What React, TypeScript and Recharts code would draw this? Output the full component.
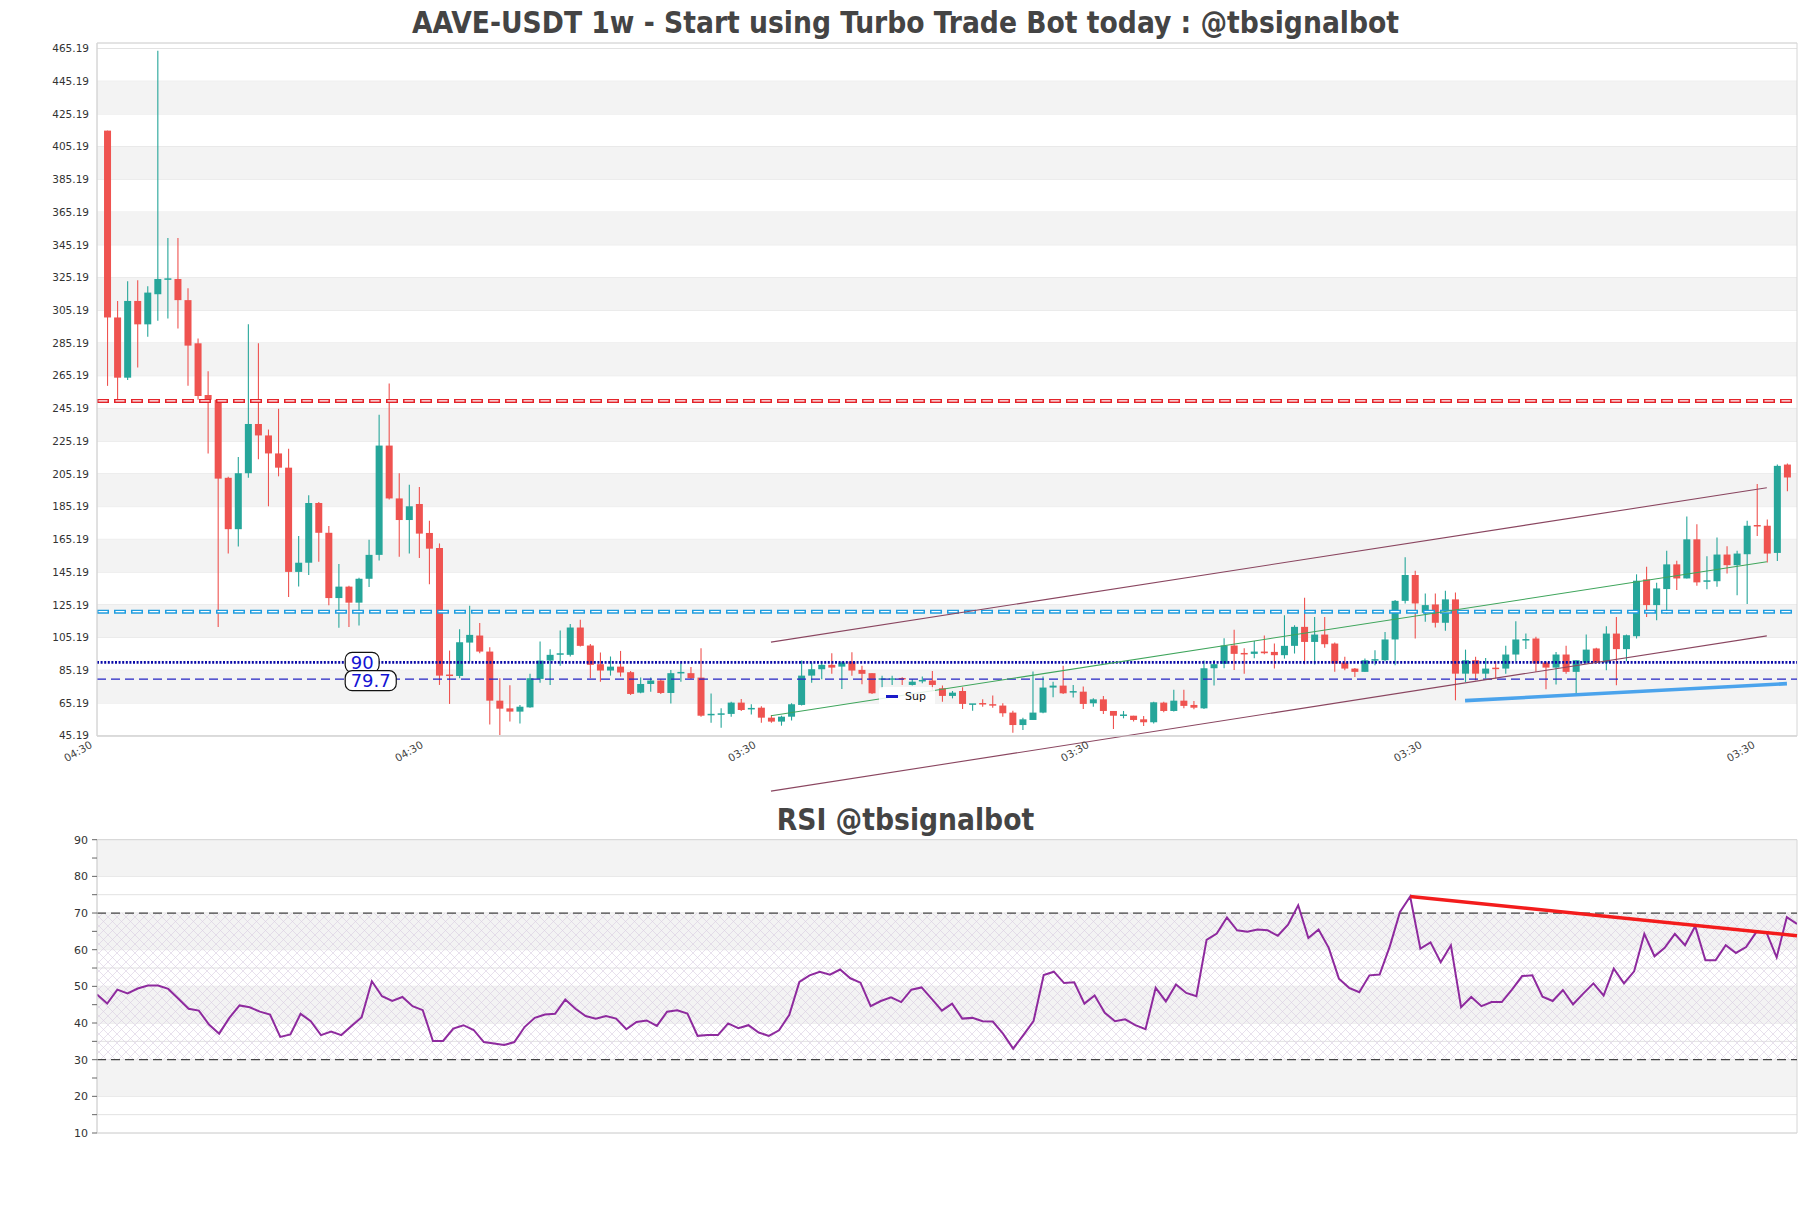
import React from 'react';
import {
  Bar,
  CartesianGrid,
  ComposedChart,
  Line,
  ReferenceArea,
  ReferenceLine,
  XAxis,
  YAxis,
} from 'recharts';

// weekly candles (index 0 = oldest)
const opens = [
  415, 300.8, 264, 310.9, 296.6, 315, 324, 324.3, 311.4, 285,
  253.4, 250.5, 202.8, 171.4, 205.6, 235.7, 228.7, 217.7, 209, 145.3,
  150.9, 187.4, 169.2, 129.3, 136.3, 126.5, 141.1, 155.7, 222.5, 190.2,
  177, 186.8, 169.1, 159.9, 82.3, 81.7, 102.1, 106.4, 96.6, 66.6,
  61.9, 59.9, 62.5, 79.9, 91.1, 95, 94.6, 111.3, 100.3, 88.9,
  85, 87.4, 84, 71.5, 76.8, 78.9, 71.3, 83.6, 83.4, 80.7,
  58, 58.3, 58.5, 65.4, 61.5, 62.3, 56.2, 53.8, 56.8, 64,
  81.9, 85.8, 88.5, 87.4, 90.5, 85.4, 83.4, 79.7, 79.7, 80.1,
  76.2, 78.7, 78.9, 74.2, 69.5, 72.5, 64.4, 64.8, 64.4, 63.6,
  59.3, 51.7, 54.8, 59.3, 74.6, 75.8, 71.9, 72.1, 65, 67.4,
  60.3, 57.6, 57.4, 55.2, 53.4, 65.4, 60.3, 66.6, 64, 61.9,
  86.4, 89.1, 100.3, 95.4, 95.2, 96.6, 96.4, 94.4, 100.1, 111.7,
  102.5, 107, 101.5, 89.9, 86.2, 84.2, 91.3, 91.3, 104, 127.6,
  143.4, 120.3, 125.4, 114.2, 128.5, 83.1, 91.3, 83.1, 86.4, 86.2,
  94.8, 103.6, 104.6, 89.9, 86.8, 94.8, 84.2, 89.9, 98.5, 89.9,
  107.6, 98.1, 106, 140.7, 125, 134.8, 149.9, 141.3, 165.2, 139.6,
  139.6, 155.9, 149.4, 156.1, 173.7, 173.5, 156.9, 210.9,
];

const highs = [
  415, 310.9, 323, 323.5, 319.9, 463.8, 349.3, 349.3, 318.7, 287.9,
  267.9, 250.5, 203.5, 215.5, 296.6, 285, 232.3, 245, 220.5, 167.2,
  192.2, 188, 173.4, 150.1, 136.9, 141.7, 164.9, 241.3, 260.4, 205.6,
  198.6, 197.2, 176.6, 162.7, 97.2, 110.3, 124.6, 114, 99.3, 80.3,
  76, 64, 83, 102.7, 98, 109.5, 113.4, 116, 101.3, 96,
  93.6, 97, 84.8, 80.7, 80.7, 79.7, 85.4, 89.5, 87.2, 98.7,
  70.9, 61.9, 66, 67.6, 64.4, 63.2, 57.8, 57.4, 65, 91.1,
  89.9, 90.5, 95.6, 90.5, 96.2, 88, 83.4, 81.9, 81.9, 80.9,
  79.9, 81.3, 84.8, 75.8, 72.5, 74.8, 64.6, 67.4, 69.7, 65,
  60.5, 56.2, 84.4, 81.3, 78.2, 88, 76.2, 75.2, 68, 69.5,
  60.3, 60.3, 57.4, 57.2, 66, 66, 73.2, 73.2, 66.4, 91.1,
  91.5, 104.8, 109.9, 98.7, 103.1, 106.4, 101.5, 118.8, 112.7, 129.5,
  117.8, 117.8, 102.1, 93.4, 86.6, 92.3, 97.4, 108.5, 128.1, 154.2,
  146, 132.1, 132.1, 133.8, 132.7, 97.8, 93.4, 92.7, 90.7, 100.1,
  115.2, 107.6, 105.6, 90.7, 96.4, 100.1, 91.3, 107, 98.9, 112.1,
  117.8, 107, 143.8, 148.5, 138.7, 158.2, 152.1, 179.1, 174.4, 154.9,
  166.3, 161, 158.2, 176.5, 199, 177.3, 210.9, 211.6,
];

const lows = [
  259, 250.5, 262.6, 270.2, 289, 298.8, 300.2, 294, 259, 250.5,
  217.7, 111.6, 156.5, 160.8, 202.8, 214.1, 185.4, 203.7, 129.9, 136.3,
  143.4, 151.5, 124.9, 111.1, 111.6, 112.5, 136, 152.3, 189.6, 154.6,
  156.5, 153.8, 137.8, 76.2, 64.6, 80.3, 90.5, 95.6, 52.1, 45.6,
  53.8, 52.7, 62.3, 77.6, 76.2, 88, 93.6, 99.7, 80.3, 78.2,
  81.9, 81.3, 70.1, 71.1, 72.1, 70.7, 64.8, 78.2, 79.9, 56.8,
  53.1, 50.1, 56.8, 60.3, 58.2, 53.1, 53.1, 51.3, 54.4, 63.6,
  77.6, 79.7, 83, 73.8, 81.9, 76.6, 70.7, 74.2, 76.2, 76.2,
  75.8, 77.2, 73.2, 66, 68, 61.5, 60.5, 62.9, 62.3, 56.8,
  47, 48.7, 54.8, 58.9, 68.7, 70.7, 68.5, 61.5, 62.9, 58.5,
  49.3, 55.8, 53.8, 51.1, 52.7, 59.5, 59.9, 61.9, 61.3, 61.5,
  75.8, 86.4, 85.4, 83, 92.5, 95, 86.2, 92.3, 95.4, 88.9,
  88.7, 98.9, 84.2, 85.2, 81.1, 84.2, 88.3, 90.7, 88.3, 126,
  104.6, 114.8, 111.3, 109.3, 66.8, 78, 79.1, 80.1, 80.1, 83.1,
  90.7, 98.1, 84.2, 73.6, 76.4, 83.1, 70.9, 89.3, 89.3, 85.2,
  76, 90.7, 104.6, 117.8, 115.8, 119.5, 134.2, 141.3, 136.8, 134.7,
  136.2, 144.3, 131.1, 125.6, 167.3, 151, 151.9, 194.6,
];

const closes = [
  300.8, 264, 310.9, 296.6, 316, 324.3, 324.5, 311.4, 283.6, 252.8,
  250.5, 202.3, 171.4, 205.6, 235.7, 228.7, 217.7, 209, 145.3, 150.9,
  187.4, 169.2, 129.3, 136.3, 126.5, 141.1, 155.7, 222.5, 190.2, 177,
  185.4, 168.7, 159.5, 81.9, 81.9, 102.3, 106.8, 96.6, 66.6, 61.7,
  59.9, 62.9, 80.3, 91.1, 94.6, 95.2, 111.3, 100.1, 88.5, 85,
  87.4, 83.8, 70.7, 76.8, 78.9, 71.3, 83.4, 83.8, 80.3, 57.4,
  58.2, 58.5, 65.4, 60.9, 61.9, 56.2, 53.8, 56.8, 64.4, 81.9,
  85.8, 88.5, 86.8, 89.9, 85, 83, 71.1, 79.9, 79.9, 79.9,
  78.2, 78.9, 76.2, 69.5, 71.5, 64.6, 64.6, 64.6, 63.6, 58.9,
  51.7, 55.2, 59.3, 74.6, 75.8, 71.1, 72.1, 64.6, 67.4, 60.3,
  57.4, 57.8, 54.8, 53.4, 65.6, 60.3, 66.6, 63.4, 62.3, 86.4,
  88.9, 100.3, 95.2, 95.2, 96.6, 95.6, 94.4, 100.1, 111.7, 102.5,
  107, 101.1, 89.3, 86.2, 84.2, 91.3, 91.7, 104, 127.6, 143.4,
  126, 125, 114.2, 128.5, 83.1, 91.3, 83.1, 86.2, 86.2, 94.8,
  104, 104, 89.3, 86.8, 94.8, 84.2, 91.3, 97.8, 89.9, 107.6,
  98.1, 106.6, 139.9, 125, 135.2, 149.9, 141.3, 165.2, 138.9, 139.8,
  155.9, 149.4, 156.5, 173.5, 173.3, 156.5, 210.1, 203,
];

const rsiValues = [
  47.8, 45.3, 49.1, 48.1, 49.4, 50.2, 50.2, 49.3, 46.6, 43.9,
  43.4, 39.6, 37.1, 41.4, 44.8, 44.3, 43.1, 42.3, 36.2, 36.9,
  42.5, 40.5, 36.7, 37.7, 36.7, 39.2, 41.6, 51.4, 47.3, 46,
  47.1, 44.6, 43.5, 35.1, 35.1, 38.5, 39.4, 38.1, 34.8, 34.4,
  34, 34.8, 38.9, 41.4, 42.3, 42.5, 46.4, 43.9, 41.9, 41.2,
  41.9, 41.2, 38.3, 40.3, 40.7, 39.2, 43.1, 43.5, 42.6, 36.5,
  36.7, 36.7, 39.9, 38.6, 39.4, 37.4, 36.5, 38, 42.2, 51.2,
  53, 54, 53.2, 54.6, 52.2, 51, 44.6, 46, 47, 45.7,
  49.1, 49.7, 46.6, 43.4, 45.3, 41.2, 41.4, 40.5, 40.4, 37.1,
  33, 36.7, 40.5, 53.1, 54, 50.9, 51.1, 45.3, 47.5, 42.8,
  40.5, 41, 39.4, 38.3, 49.6, 45.9, 50.5, 48.2, 47.3, 62.7,
  64.4, 68.8, 65.3, 64.9, 65.5, 65.3, 63.8, 66.8, 72.1, 63.2,
  65.5, 60.5, 52.1, 49.6, 48.4, 53, 53.2, 60.9, 70.3, 74.5,
  60.3, 62, 56.6, 61.2, 44.3, 47.1, 44.6, 45.7, 45.7, 49.1,
  52.8, 53, 47.2, 46, 49, 45.1, 48, 50.8, 47.5, 54.8,
  50.8, 54.1, 64.3, 58.2, 60.5, 64.3, 61.2, 66.4, 57.1, 57.1,
  61.2, 59.1, 60.7, 64.8, 64.7, 57.9, 68.9, 67,
];

const priceTicks = [
  45.19, 65.19, 85.19, 105.19, 125.19, 145.19, 165.19, 185.19, 205.19, 225.19, 245.19,
  265.19, 285.19, 305.19, 325.19, 345.19, 365.19, 385.19, 405.19, 425.19, 445.19, 465.19,
];
const rsiTicks = [10, 20, 30, 40, 50, 60, 70, 80, 90];
const xTickPositions = [-1.4, 31.5, 64.6, 97.7, 130.8, 163.9];
const xTickLabels = ['04:30', '04:30', '03:30', '03:30', '03:30', '03:30'];

const resistanceLevel = 249.8;
const supportLevel = 121.0;
const level90 = 90;
const level797 = 79.7;

const channelUpper = [{ x: 66, y: 102.4 }, { x: 165, y: 196.7 }];
const channelLower = [{ x: 66, y: 11.3 }, { x: 165, y: 106.2 }];
const channelMid = [{ x: 66, y: 57.4 }, { x: 165, y: 151.5 }];
const supLine = [{ x: 135, y: 66.6 }, { x: 167, y: 77 }];
const rsiTrend = [{ x: 129, y: 74.5 }, { x: 167, y: 63.8 }];

const GREEN = '#26a69a';
const RED = '#ef5350';
const BAND = '#f3f3f3';
const GRID = '#e2e2e2';

const candles = opens.map((open, i) => ({
  i,
  open,
  close: closes[i],
  high: Math.max(highs[i], open, closes[i]),
  low: Math.min(lows[i], open, closes[i]),
}));
const rsiData = rsiValues.map((rsi, i) => ({ i, rsi }));

function Candle(props: any) {
  const { x, y, width, height, payload } = props;
  if (x == null || y == null) return null;
  const { open, close, high, low } = payload;
  const color = close >= open ? GREEN : RED;
  const top = Math.min(y, y + height);
  const total = Math.abs(height);
  const span = high - low;
  const toY = (v: number) => (span > 0 ? top + ((high - v) / span) * total : top);
  let bTop = toY(Math.max(open, close));
  let bBot = toY(Math.min(open, close));
  if (bBot - bTop < 1.5) {
    const mid = (bTop + bBot) / 2;
    bTop = mid - 0.75;
    bBot = mid + 0.75;
  }
  const cx = x + width / 2;
  return (
    <g>
      <line x1={cx} x2={cx} y1={top} y2={top + total} stroke={color} strokeWidth={1.1} />
      <rect x={x} y={bTop} width={width} height={bBot - bTop} fill={color} />
    </g>
  );
}

function XTick(props: any) {
  const { x, y, payload } = props;
  const k = xTickPositions.indexOf(payload.value);
  const ty = y + 3;
  return (
    <text x={x} y={ty} textAnchor="end" fontSize={10.5} fill="#444" transform={`rotate(-30, ${x}, ${ty})`}>
      {k >= 0 ? xTickLabels[k] : ''}
    </text>
  );
}

function RsiTick(props: any) {
  const { x, y, payload } = props;
  if (payload.value % 10 !== 0) return null;
  return (
    <text x={x} y={y} dy={4} textAnchor="end" fontSize={11} fill="#333">
      {payload.value}
    </text>
  );
}

function textWidth(s: string) {
  let w = 0;
  for (const ch of s) w += ch === '.' ? 5.7 : 11.45;
  return w;
}

function LevelTag(props: any) {
  const { viewBox, text, dy } = props;
  if (!viewBox) return null;
  const w = textWidth(text) + 11;
  const x = viewBox.x + viewBox.width * 0.146;
  const cy = viewBox.y + dy;
  return (
    <g>
      <rect x={x} y={cy - 10} width={w} height={20} rx={7} fill="#fff" stroke="#111" strokeWidth={1.2} />
      <text x={x + w / 2} y={cy + 6.5} textAnchor="middle" fontSize={18} fill="#1414d4">
        {text}
      </text>
    </g>
  );
}

// thick dashed stroke with a white core -> reads as a hollow, double dashed line
function DoubleDash(color: string) {
  return (p: any) => (
    <g>
      <line x1={p.x1} x2={p.x2} y1={p.y1} y2={p.y2} stroke={color} strokeWidth={4} strokeDasharray="12 5" />
      <line
        x1={p.x1}
        x2={p.x2}
        y1={p.y1}
        y2={p.y2}
        stroke="#fff"
        strokeWidth={1.4}
        strokeDasharray="9 8"
        strokeDashoffset={-1.5}
      />
    </g>
  );
}

const bandPairs = (ticks: number[]) =>
  ticks.slice(0, -1).map((t, k) => [t, ticks[k + 1]]).filter((_, k) => k % 2 === 1);

function PriceChart() {
  return (
    <ComposedChart
      width={1811}
      height={800}
      data={candles}
      margin={{ top: 43, right: 14, bottom: 24, left: 0 }}
    >
      {bandPairs(priceTicks).map(([a, b]) => (
        <ReferenceArea key={a} y1={a} y2={b} fill={BAND} fillOpacity={1} stroke="none" />
      ))}
      <CartesianGrid vertical={false} stroke={GRID} />
      <ReferenceArea x1={-1} x2={168} y1={45} y2={468.55} fill="none" stroke="#d6d6d6" />
      <XAxis
        type="number"
        dataKey="i"
        domain={[-1, 168]}
        allowDataOverflow
        ticks={xTickPositions}
        interval={0}
        height={40}
        tickLine={false}
        axisLine={{ stroke: '#d6d6d6' }}
        tick={<XTick />}
      />
      <YAxis
        type="number"
        domain={[45, 468.55]}
        allowDataOverflow
        ticks={priceTicks}
        interval={0}
        width={97}
        tickLine={false}
        axisLine={{ stroke: '#d6d6d6' }}
        tick={{ fontSize: 10.5, fill: '#333' }}
        tickFormatter={(v: number) => v.toFixed(2)}
      />
      <ReferenceLine y={resistanceLevel} shape={DoubleDash('#e3232a')} />
      <ReferenceLine y={supportLevel} shape={DoubleDash('#1f9ddf')} />
      <ReferenceLine
        y={level90}
        stroke="#0a0aa8"
        strokeWidth={2.6}
        strokeDasharray="2 1.6"
        label={<LevelTag text="90" dy={0} />}
      />
      <ReferenceLine
        y={level797}
        stroke="#2424c4"
        strokeWidth={1.3}
        strokeDasharray="9 5"
        label={<LevelTag text="79.7" dy={1.5} />}
      />
      <ReferenceLine segment={channelUpper} ifOverflow="visible" stroke="#8a4660" strokeWidth={1.1} />
      <ReferenceLine segment={channelLower} ifOverflow="visible" stroke="#8a4660" strokeWidth={1.1} />
      <ReferenceLine segment={channelMid} ifOverflow="visible" stroke="#3fa55c" strokeWidth={1.1} />
      <Bar
        dataKey={(d: any) => [d.low, d.high]}
        barSize={7}
        shape={<Candle />}
        isAnimationActive={false}
      />
      <ReferenceLine segment={supLine} ifOverflow="visible" stroke="#4aa3ec" strokeWidth={3.6} />
    </ComposedChart>
  );
}

function RsiChart() {
  return (
    <ComposedChart
      width={1811}
      height={360}
      data={rsiData}
      margin={{ top: 39.7, right: 14, bottom: 27, left: 0 }}
    >
      <defs>
        <pattern id="rsiHatch" width="9" height="9" patternUnits="userSpaceOnUse">
          <path d="M0,0 L9,9 M9,0 L0,9" stroke="#d8cce0" strokeWidth={0.6} />
        </pattern>
      </defs>
      {bandPairs(rsiTicks).map(([a, b]) => (
        <ReferenceArea key={a} y1={a} y2={b} fill={BAND} fillOpacity={1} stroke="none" />
      ))}
      <ReferenceArea y1={30} y2={70} fill="url(#rsiHatch)" fillOpacity={1} stroke="none" />
      <CartesianGrid vertical={false} stroke={GRID} />
      <ReferenceArea x1={0} x2={167} y1={10} y2={90} fill="none" stroke="#d6d6d6" />
      <XAxis type="number" dataKey="i" domain={[0, 167]} allowDataOverflow hide />
      <YAxis
        type="number"
        domain={[10, 90]}
        allowDataOverflow
        ticks={[10, 15, 20, 25, 30, 35, 40, 45, 50, 55, 60, 65, 70, 75, 80, 85, 90]}
        interval={0}
        width={97}
        tickSize={5}
        tickMargin={4}
        tickLine={{ stroke: '#666' }}
        axisLine={{ stroke: '#d6d6d6' }}
        tick={<RsiTick />}
      />
      <ReferenceLine y={70} stroke="#444" strokeWidth={1.3} strokeDasharray="9 5" />
      <ReferenceLine y={30} stroke="#444" strokeWidth={1.3} strokeDasharray="9 5" />
      <Line
        type="linear"
        dataKey="rsi"
        stroke="#8e2a9e"
        strokeWidth={2}
        dot={false}
        isAnimationActive={false}
      />
      <ReferenceLine segment={rsiTrend} ifOverflow="visible" stroke="#f31c1c" strokeWidth={3.4} />
    </ComposedChart>
  );
}

const titleStyle: React.CSSProperties = {
  position: 'absolute',
  left: 0,
  width: 1811,
  textAlign: 'center',
  fontFamily: '"DejaVu Sans Condensed", "DejaVu Sans", sans-serif',
  fontStretch: 'condensed',
  fontWeight: 'bold',
  fontSize: 29.6,
  color: '#444',
  lineHeight: '32px',
};

export default function App() {
  return (
    <div
      style={{
        position: 'absolute',
        left: 0,
        top: 0,
        width: 1811,
        height: 1208,
        background: '#fff',
        fontFamily: '"DejaVu Sans", sans-serif',
      }}
    >
      <div style={{ ...titleStyle, top: 7 }}>
        AAVE-USDT 1w - Start using Turbo Trade Bot today : @tbsignalbot
      </div>
      <div style={{ position: 'absolute', left: 0, top: 0 }}>
        <PriceChart />
      </div>
      <div style={{ ...titleStyle, top: 804 }}>RSI @tbsignalbot</div>
      <div style={{ position: 'absolute', left: 0, top: 800 }}>
        <RsiChart />
      </div>
      <div
        style={{
          position: 'absolute',
          left: 879,
          top: 687,
          width: 56,
          height: 19,
          background: 'rgba(255,255,255,0.85)',
          borderRadius: 3,
          fontSize: 11,
          color: '#111',
          display: 'flex',
          alignItems: 'center',
        }}
      >
        <span style={{ display: 'inline-block', width: 12, height: 2.5, background: '#1a1ac8', marginLeft: 7, marginRight: 7 }} />
        Sup
      </div>
    </div>
  );
}
